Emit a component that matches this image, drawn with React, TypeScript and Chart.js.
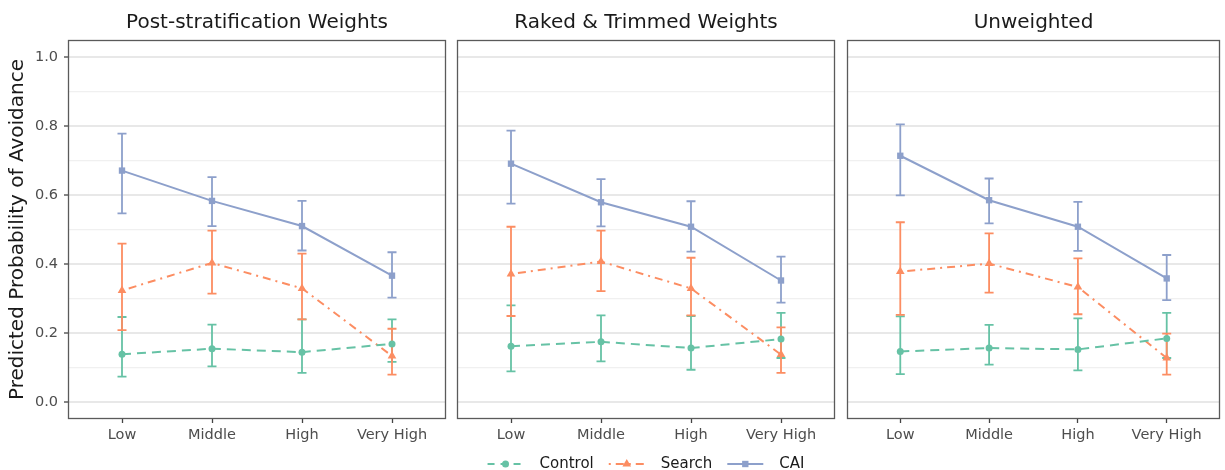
import React, { useEffect, useRef } from "react";
import { Chart, registerables } from "chart.js";

Chart.register(...registerables);

const FONT = "'DejaVu Sans', 'Liberation Sans', sans-serif";

// ---------- data ----------
const categories = ["Low", "Middle", "High", "Very High"];
const panelTitles = ["Post-stratification Weights", "Raked & Trimmed Weights", "Unweighted"];
const seriesNames = ["Control", "Search", "CAI"];
const yAxisTitle = "Predicted Probability of Avoidance";
const yMajorTicks = [0, 0.2, 0.4, 0.6, 0.8, 1.0];
const yMinorTicks = [0.1, 0.3, 0.5, 0.7, 0.9];

// Post-stratification Weights
const postControl = [0.138, 0.154, 0.144, 0.168];
const postControlLow = [0.073, 0.103, 0.084, 0.116];
const postControlHigh = [0.246, 0.224, 0.239, 0.239];
const postSearch = [0.323, 0.403, 0.329, 0.133];
const postSearchLow = [0.208, 0.314, 0.239, 0.079];
const postSearchHigh = [0.459, 0.497, 0.43, 0.212];
const postCAI = [0.671, 0.583, 0.51, 0.366];
const postCAILow = [0.547, 0.51, 0.439, 0.302];
const postCAIHigh = [0.778, 0.652, 0.583, 0.434];

// Raked & Trimmed Weights
const rakedControl = [0.161, 0.174, 0.156, 0.182];
const rakedControlLow = [0.088, 0.117, 0.093, 0.127];
const rakedControlHigh = [0.28, 0.251, 0.249, 0.258];
const rakedSearch = [0.371, 0.407, 0.329, 0.137];
const rakedSearchLow = [0.249, 0.321, 0.251, 0.084];
const rakedSearchHigh = [0.508, 0.497, 0.418, 0.216];
const rakedCAI = [0.691, 0.579, 0.508, 0.352];
const rakedCAILow = [0.575, 0.509, 0.436, 0.288];
const rakedCAIHigh = [0.787, 0.646, 0.582, 0.421];

// Unweighted
const unwControl = [0.146, 0.156, 0.152, 0.184];
const unwControlLow = [0.08, 0.108, 0.091, 0.127];
const unwControlHigh = [0.248, 0.223, 0.242, 0.258];
const unwSearch = [0.378, 0.401, 0.333, 0.127];
const unwSearchLow = [0.252, 0.317, 0.254, 0.079];
const unwSearchHigh = [0.521, 0.489, 0.416, 0.198];
const unwCAI = [0.714, 0.585, 0.508, 0.358];
const unwCAILow = [0.599, 0.518, 0.438, 0.295];
const unwCAIHigh = [0.805, 0.648, 0.58, 0.426];

const panelSeries = [
  [
    [postControl, postControlLow, postControlHigh],
    [postSearch, postSearchLow, postSearchHigh],
    [postCAI, postCAILow, postCAIHigh],
  ],
  [
    [rakedControl, rakedControlLow, rakedControlHigh],
    [rakedSearch, rakedSearchLow, rakedSearchHigh],
    [rakedCAI, rakedCAILow, rakedCAIHigh],
  ],
  [
    [unwControl, unwControlLow, unwControlHigh],
    [unwSearch, unwSearchLow, unwSearchHigh],
    [unwCAI, unwCAILow, unwCAIHigh],
  ],
];

// ---------- styles ----------
const seriesColors = ["#66C2A5", "#FC8D62", "#8DA0CB"];
const seriesDash = [[9, 6], [2, 5, 8, 5], []];
const seriesPointStyle = ["circle", "triangle", "rect"];
const seriesPointRadius = [3.5, 5, 4.5];

// panel geometry: canvas left/width and inner padding
const panelGeom = [
  { left: 0, width: 452, padLeft: 0, padRight: 6, yWidth: 68 },
  { left: 452, width: 390, padLeft: 5, padRight: 7, yWidth: 0 },
  { left: 842, width: 383, padLeft: 3, padRight: 2, yWidth: 0 },
];

function drawMarker(ctx: CanvasRenderingContext2D, style: string, x: number, y: number, r: number, color: string) {
  ctx.save();
  ctx.fillStyle = color;
  ctx.beginPath();
  if (style === "circle") {
    ctx.arc(x, y, r, 0, Math.PI * 2);
  } else if (style === "triangle") {
    ctx.moveTo(x, y - r);
    ctx.lineTo(x + r * 0.866, y + r * 0.5);
    ctx.lineTo(x - r * 0.866, y + r * 0.5);
    ctx.closePath();
  } else {
    const s = r * Math.SQRT1_2;
    ctx.rect(x - s, y - s, 2 * s, 2 * s);
  }
  ctx.fill();
  ctx.restore();
}

const errorBarPlugin = {
  id: "errorBars",
  beforeDatasetsDraw(chart: any) {
    const { ctx, scales } = chart;
    const x = scales.x;
    const y = scales.y;
    chart.data.datasets.forEach((ds: any) => {
      ctx.save();
      ctx.strokeStyle = ds.borderColor;
      ctx.lineWidth = 1.8;
      ctx.setLineDash([]);
      ds.data.forEach((p: any, i: number) => {
        const px = x.getPixelForValue(p.x);
        const yl = y.getPixelForValue(ds.errLow[i]);
        const yh = y.getPixelForValue(ds.errHigh[i]);
        ctx.beginPath();
        ctx.moveTo(px, yl);
        ctx.lineTo(px, yh);
        ctx.moveTo(px - 4.5, yl);
        ctx.lineTo(px + 4.5, yl);
        ctx.moveTo(px - 4.5, yh);
        ctx.lineTo(px + 4.5, yh);
        ctx.stroke();
      });
      ctx.restore();
    });
  },
};

const framePlugin = {
  id: "frame",
  afterDraw(chart: any) {
    const { ctx, chartArea } = chart;
    const o = chart.options.plugins.frame || {};
    ctx.save();
    ctx.strokeStyle = "#5a5a5a";
    ctx.lineWidth = 1.3;
    ctx.strokeRect(
      Math.round(chartArea.left) + 0.5,
      Math.round(chartArea.top) + 0.5,
      Math.round(chartArea.right - chartArea.left) - 1,
      Math.round(chartArea.bottom - chartArea.top) - 1
    );
    // panel title
    ctx.fillStyle = "#1a1a1a";
    ctx.font = `20px ${FONT}`;
    ctx.textAlign = "center";
    ctx.textBaseline = "middle";
    ctx.fillText(o.title || "", (chartArea.left + chartArea.right) / 2, 23);
    ctx.restore();

    if (o.legend) {
      ctx.save();
      ctx.font = `15px ${FONT}`;
      const sampleW = 36;
      const gapText = 16;
      const gapItem = 15;
      const widths = seriesNames.map((n) => ctx.measureText(n).width);
      const total =
        seriesNames.length * (sampleW + gapText) + widths.reduce((a, b) => a + b, 0) + gapItem * (seriesNames.length - 1);
      let cx = (chartArea.left + chartArea.right) / 2 - total / 2;
      const ly = 464;
      seriesNames.forEach((n, i) => {
        ctx.strokeStyle = seriesColors[i];
        ctx.lineWidth = 2;
        ctx.setLineDash(i === 0 ? [7, 6] : i === 1 ? [2, 5, 8, 5] : []);
        ctx.beginPath();
        ctx.moveTo(cx, ly);
        ctx.lineTo(cx + sampleW, ly);
        ctx.stroke();
        ctx.setLineDash([]);
        drawMarker(ctx, seriesPointStyle[i], cx + sampleW / 2, ly, seriesPointRadius[i], seriesColors[i]);
        cx += sampleW + gapText;
        ctx.fillStyle = "#1a1a1a";
        ctx.textAlign = "left";
        ctx.textBaseline = "middle";
        ctx.fillText(n, cx, ly);
        cx += widths[i] + gapItem;
      });
      ctx.restore();
    }
  },
};

function buildConfig(pi: number): any {
  const g = panelGeom[pi];
  const showY = pi === 0;
  const datasets = panelSeries[pi].map((s, si) => ({
    label: seriesNames[si],
    data: categories.map((_, ci) => ({ x: ci + 1, y: s[0][ci] })),
    errLow: s[1],
    errHigh: s[2],
    borderColor: seriesColors[si],
    backgroundColor: seriesColors[si],
    borderWidth: 2,
    borderDash: seriesDash[si],
    pointStyle: seriesPointStyle[si],
    pointRadius: seriesPointRadius[si],
    pointBorderWidth: 0,
    pointBackgroundColor: seriesColors[si],
    pointBorderColor: seriesColors[si],
    tension: 0,
    fill: false,
  }));
  const allY = [...yMajorTicks, ...yMinorTicks].sort((a, b) => a - b);
  const isMajor = (v: number) => yMajorTicks.some((m) => Math.abs(m - v) < 1e-6);
  return {
    type: "line",
    data: { datasets },
    plugins: [errorBarPlugin, framePlugin],
    options: {
      responsive: false,
      maintainAspectRatio: false,
      animation: false,
      events: [],
      layout: { padding: { left: g.padLeft, right: g.padRight, top: 40, bottom: 21 } },
      plugins: {
        legend: { display: false },
        tooltip: { enabled: false },
        title: { display: false },
        frame: { title: panelTitles[pi], legend: pi === 1 },
      },
      scales: {
        x: {
          type: "linear",
          min: 0.4,
          max: 4.6,
          afterBuildTicks: (s: any) => {
            s.ticks = categories.map((_, i) => ({ value: i + 1 }));
          },
          ticks: {
            callback: (v: number) => categories[Math.round(v) - 1] ?? "",
            font: { family: FONT, size: 14.5 },
            color: "#4d4d4d",
            padding: 4,
            autoSkip: false,
            maxRotation: 0,
          },
          grid: { drawOnChartArea: false, drawTicks: true, tickLength: 4, tickColor: "#444444", tickWidth: 1.3 },
          border: { display: false },
          afterFit: (s: any) => {
            s.height = 30;
          },
        },
        y: {
          type: "linear",
          min: -0.05,
          max: 1.05,
          afterBuildTicks: (s: any) => {
            s.ticks = allY.map((v) => ({ value: v }));
          },
          ticks: {
            display: showY,
            callback: (v: number) => (isMajor(v) ? v.toFixed(1) : ""),
            font: { family: FONT, size: 14.5 },
            color: "#4d4d4d",
            padding: 6,
            autoSkip: false,
          },
          grid: {
            color: (c: any) => (c.tick && isMajor(c.tick.value) ? "#e8e8e8" : "#f0f0f0"),
            lineWidth: (c: any) => (c.tick && isMajor(c.tick.value) ? 2 : 1.2),
            drawTicks: showY,
            tickLength: 4,
            tickWidth: 1.3,
            tickColor: (c: any) => (c.tick && isMajor(c.tick.value) ? "#444444" : "rgba(0,0,0,0)"),
          },
          border: { display: false },
          title: {
            display: showY,
            text: yAxisTitle,
            font: { family: FONT, size: 20 },
            color: "#1a1a1a",
            padding: { top: 6, bottom: 0 },
          },
          afterFit: (s: any) => {
            s.width = g.yWidth;
          },
        },
      },
    },
  };
}

function Panel({ index }: { index: number }) {
  const ref = useRef<HTMLCanvasElement | null>(null);
  useEffect(() => {
    if (!ref.current) return;
    const chart = new Chart(ref.current, buildConfig(index));
    return () => chart.destroy();
  }, [index]);
  const g = panelGeom[index];
  return (
    <div style={{ position: "absolute", left: g.left, top: 0, width: g.width, height: 470 }}>
      <canvas ref={ref} width={g.width} height={470} style={{ width: g.width, height: 470, display: "block" }} />
    </div>
  );
}

export default function App() {
  return (
    <div style={{ position: "absolute", left: 0, top: 0, width: 1225, height: 470, background: "#ffffff", overflow: "hidden" }}>
      {panelTitles.map((_, i) => (
        <Panel key={i} index={i} />
      ))}
    </div>
  );
}
